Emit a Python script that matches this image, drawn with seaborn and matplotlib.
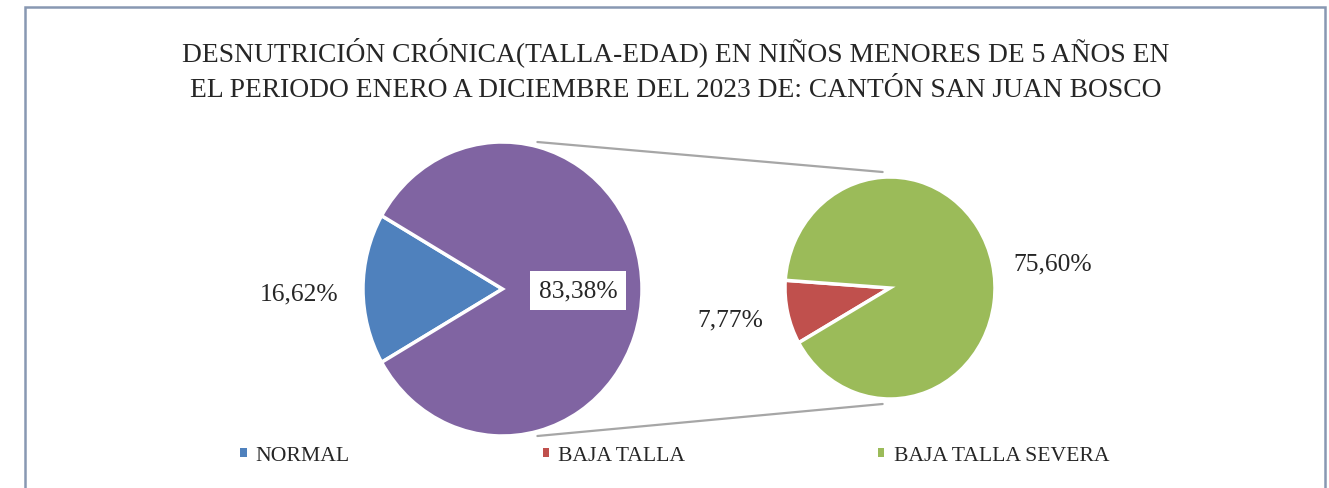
import matplotlib
matplotlib.use("Agg")
import matplotlib.pyplot as plt
import matplotlib.patches as mpatches
from matplotlib.patches import ConnectionPatch
import seaborn as sns

# ---- data -------------------------------------------------------------
title_lines = [
    "DESNUTRICIÓN CRÓNICA(TALLA-EDAD) EN NIÑOS MENORES DE 5 AÑOS EN",
    "EL PERIODO ENERO A DICIEMBRE DEL 2023 DE: CANTÓN SAN JUAN BOSCO",
]
categories = ["NORMAL", "BAJA TALLA", "BAJA TALLA SEVERA"]
percentages = [16.62, 7.77, 75.60]
grouped_pct = 83.38          # share of the two stunting categories together

colors = ["#4f81bd", "#c0504d", "#9bbb59"]
grouped_color = "#8064a2"

# ---- style ------------------------------------------------------------
sns.set_theme(style="white")
plt.rcParams["font.family"] = ["Liberation Serif", "DejaVu Serif"]
text_color = "#262626"

W, H = 1329, 489
fig = plt.figure(figsize=(W / 100, H / 100), dpi=100)
fig.patch.set_facecolor("white")


def fx(px):
    return px / W


def fy(py):
    return 1 - py / H


def fmt(v):
    return f"{v:.2f}%".replace(".", ",")


# outer frame (open at the bottom)
fig.add_artist(mpatches.Rectangle((fx(25), -0.2), fx(1300), fy(8) + 0.2,
                                  transform=fig.transFigure, fill=False,
                                  edgecolor="#8898b2", linewidth=1.8))

# title
for line, base in zip(title_lines, [61, 97]):
    fig.text(fx(676), fy(base), line, ha="center", va="baseline",
             fontsize=19.8, color=text_color)

wedge_style = dict(edgecolor="white", linewidth=2.5)

# main pie: NORMAL vs grouped stunting
axL = fig.add_axes([fx(363), fy(437), fx(279), 294 / H])
main_vals = [percentages[0], grouped_pct]
wL, _ = axL.pie(main_vals, colors=[colors[0], grouped_color],
                startangle=180 - main_vals[0] / 100 * 180,
                counterclock=True, wedgeprops=wedge_style)
axL.set_xlim(-1, 1)
axL.set_ylim(-1, 1)
axL.set_aspect("auto")
axL.axis("off")

axL.text(-1.46, -0.03, fmt(main_vals[0]), ha="center", va="center",
         fontsize=18.4, color=text_color)
axL.text(0.54, -0.01, fmt(main_vals[1]), ha="center", va="center",
         fontsize=18.4, color=text_color,
         bbox=dict(boxstyle="square,pad=0.35", facecolor="white",
                   edgecolor="none"))

# secondary pie: breakdown of the stunting share
axR = fig.add_axes([fx(785), fy(400), fx(210), 222 / H])
sub_vals = percentages[1:]
wR, _ = axR.pie(sub_vals, colors=colors[1:], startangle=176,
                counterclock=True, wedgeprops=wedge_style)
axR.set_xlim(-1, 1)
axR.set_ylim(-1, 1)
axR.set_aspect("auto")
axR.axis("off")

for v, (x, y) in zip(sub_vals, [(-1.52, -0.28), (1.55, 0.22)]):
    axR.text(x, y, fmt(v), ha="center", va="center",
             fontsize=18.4, color=text_color)

# connector lines between the two pies
for s in (1, -1):
    con = ConnectionPatch(xyA=(0.25, 1.0 * s), coordsA=axL.transData,
                          xyB=(-0.07, 1.045 * s), coordsB=axR.transData,
                          color="#a6a6a6", linewidth=1.6)
    fig.add_artist(con)

# legend
handles = [mpatches.Patch(facecolor=c, edgecolor="none") for c in colors]
fig.legend(handles, categories, loc="center left",
           bbox_to_anchor=(fx(240), fy(457)), ncol=3, frameon=False,
           fontsize=15.6, handlelength=0.3, handleheight=0.3,
           handletextpad=0.42, columnspacing=8.9, borderpad=0,
           borderaxespad=0, labelcolor=text_color)

fig.savefig("out.png", dpi=100, facecolor="white")
